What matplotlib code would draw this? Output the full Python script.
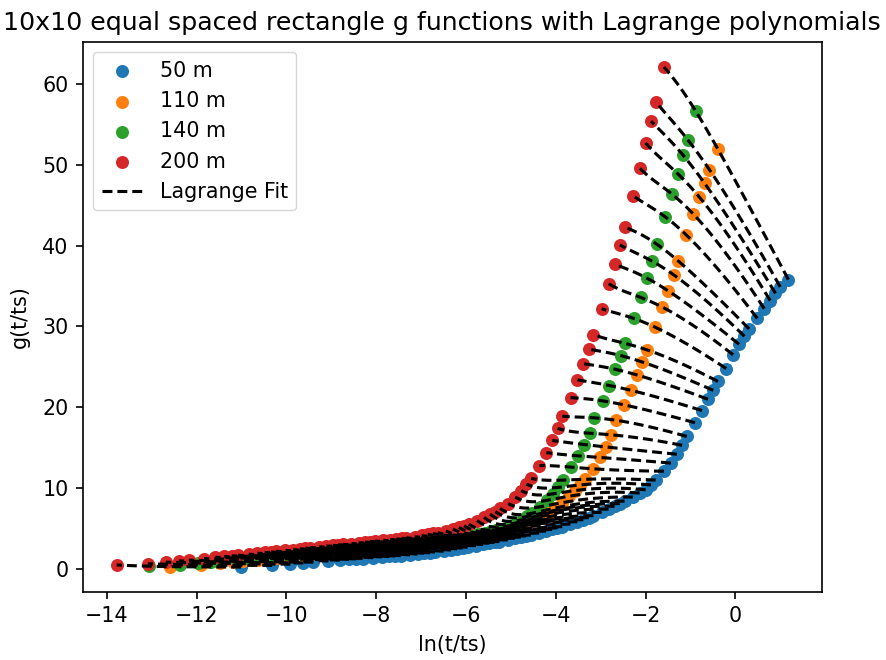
import numpy as np
import matplotlib
matplotlib.use('Agg')
import matplotlib.pyplot as plt

# ---------------- data ----------------
heights = [50, 110, 140, 200]
labels = ['50 m', '110 m', '140 m', '200 m']
colors = ['#1f77b4', '#ff7f0e', '#2ca02c', '#d62728']

# simulation times (hours)
hours = [1, 2, 3, 4, 5, 7, 9, 11, 13, 15, 19, 23, 27, 31, 35, 43, 51, 59, 67, 75,
         91, 107, 123, 139, 155, 187, 219, 251, 283, 315, 379, 443, 507, 571, 635,
         763, 891, 1019, 1147, 1275, 1531, 1787, 2043, 2299, 2555, 3067, 3579, 4091,
         4603, 5115, 6139, 7163, 8187, 9211, 10235, 12283, 14331, 16379, 18427, 20475,
         24571, 28667, 32763, 36859, 40955, 49147, 57339, 65531, 73723, 81915, 98299,
         114683, 131067, 147451, 163835, 196603]
# ln(ts / 1 h) for each height
ln_ts = [11.007, 12.584, 13.067, 13.78]

g_50 = [0.25, 0.45, 0.6, 0.75, 0.85, 1.0, 1.1, 1.2, 1.25, 1.3, 1.4, 1.5, 1.55, 1.6, 1.65,
        1.75, 1.85, 1.95, 2.0, 2.1, 2.2, 2.35, 2.5, 2.6, 2.7, 2.9, 3.05, 3.2, 3.3, 3.4,
        3.6, 3.8, 3.95, 4.1, 4.2, 4.45, 4.7, 4.9, 5.1, 5.25, 5.55, 5.85, 6.1, 6.35, 6.6,
        7.0, 7.4, 7.75, 8.1, 8.4, 8.9, 9.4, 9.8, 10.4, 11.0, 12.1, 13.1, 14.2, 15.3, 16.4,
        18.1, 19.6, 21.0, 22.1, 23.2, 24.8, 26.5, 27.8, 28.8, 29.7, 31.0, 32.2, 33.2, 34.1,
        34.9, 35.8]
g_110 = [0.3, 0.5, 0.7, 0.85, 0.95, 1.15, 1.3, 1.4, 1.5, 1.58, 1.7, 1.8, 1.9, 1.97, 2.05,
         2.15, 2.25, 2.35, 2.42, 2.5, 2.6, 2.7, 2.78, 2.85, 2.92, 3.02, 3.12, 3.2, 3.28, 3.35,
         3.48, 3.6, 3.7, 3.8, 3.9, 4.05, 4.2, 4.35, 4.45, 4.55, 4.8, 5.0, 5.2, 5.4, 5.6,
         6.0, 6.4, 6.8, 7.1, 7.5, 8.2, 9.0, 9.7, 10.4, 11.1, 12.4, 13.8, 15.1, 16.6, 18.4,
         20.3, 22.1, 24.0, 25.6, 27.1, 29.9, 32.4, 34.4, 36.4, 38.1, 41.3, 43.9, 46.0, 47.7,
         49.4, 52.0]
g_140 = [0.35, 0.55, 0.75, 0.9, 1.0, 1.2, 1.35, 1.45, 1.55, 1.62, 1.75, 1.85, 1.95, 2.02, 2.1,
         2.2, 2.3, 2.4, 2.48, 2.55, 2.65, 2.75, 2.82, 2.9, 2.95, 3.05, 3.15, 3.22, 3.3, 3.35,
         3.45, 3.55, 3.62, 3.7, 3.77, 3.9, 4.0, 4.1, 4.2, 4.25, 4.35, 4.5, 4.65, 4.8, 5.0,
         5.35, 5.7, 6.1, 6.5, 6.9, 7.7, 8.5, 9.3, 10.1, 11.0, 12.6, 14.0, 15.4, 16.8, 18.7,
         20.8, 22.7, 24.7, 26.4, 27.9, 31.0, 33.6, 36.0, 38.1, 40.2, 43.6, 46.4, 48.9, 51.2,
         53.1, 56.6]
g_200 = [0.5, 0.65, 0.85, 1.0, 1.1, 1.3, 1.45, 1.55, 1.62, 1.7, 1.82, 1.95, 2.05, 2.1, 2.2,
         2.3, 2.4, 2.5, 2.58, 2.65, 2.75, 2.85, 2.92, 3.0, 3.05, 3.15, 3.25, 3.32, 3.4, 3.45,
         3.55, 3.65, 3.72, 3.8, 3.87, 4.0, 4.15, 4.3, 4.4, 4.5, 4.7, 4.95, 5.15, 5.35, 5.55,
         6.0, 6.4, 6.8, 7.1, 7.5, 8.1, 8.9, 9.7, 10.5, 11.2, 12.8, 14.4, 15.9, 17.4, 18.9,
         21.2, 23.4, 25.4, 27.2, 29.0, 32.2, 35.3, 37.7, 40.1, 42.3, 46.2, 49.6, 52.7, 55.4,
         57.8, 62.1]

# ---------------- plot ----------------
S = 1.49
plt.rcParams.update({
    'font.family': ['DejaVu Sans'],
    'font.size': 10 * S,
    'axes.linewidth': 0.8 * S,
    'xtick.major.size': 3.5 * S, 'ytick.major.size': 3.5 * S,
    'xtick.major.width': 0.8 * S, 'ytick.major.width': 0.8 * S,
    'xtick.major.pad': 3.5 * S, 'ytick.major.pad': 3.5 * S,
    'axes.titlepad': 6 * S, 'axes.labelpad': 4 * S,
    'legend.fontsize': 10 * S,
})

fig = plt.figure(figsize=(8.87, 6.60), dpi=100)
ax = fig.add_axes([83 / 887, 68 / 660, 739 / 887, 550 / 660])

lnt = np.log(np.array(hours, dtype=float))
gs = [g_50, g_110, g_140, g_200]
xs = [lnt - lt for lt in ln_ts]

for x, g, c, lab in zip(xs, gs, colors, labels):
    ax.scatter(x, g, s=36 * S * S * 1.1, color=c, label=lab, linewidths=0)

# Lagrange polynomial fit across heights for each time
H = np.array(heights, dtype=float)
Hf = np.linspace(H[0], H[-1], 80)
basis = []
for j in range(len(H)):
    b = np.ones_like(Hf)
    for k in range(len(H)):
        if k != j:
            b *= (Hf - H[k]) / (H[j] - H[k])
    basis.append(b)
basis = np.array(basis)

for i in range(len(hours)):
    xv = np.array([xs[j][i] for j in range(4)])
    gv = np.array([gs[j][i] for j in range(4)])
    xf = basis.T @ xv
    gf = basis.T @ gv
    ax.plot(xf, gf, color='black', lw=1.5 * S, linestyle=(0, (3.2, 1.6)),
            label='Lagrange Fit' if i == 0 else None, zorder=3)

ax.set_title('10x10 equal spaced rectangle g functions with Lagrange polynomials',
             fontsize=12 * S * 1.015, x=0.485)
ax.set_xlabel('ln(t/ts)')
ax.set_ylabel('g(t/ts)', labelpad=6 * S)
ax.legend(loc='upper left', handlelength=2.0)

fig.savefig('out.png', dpi=100)
